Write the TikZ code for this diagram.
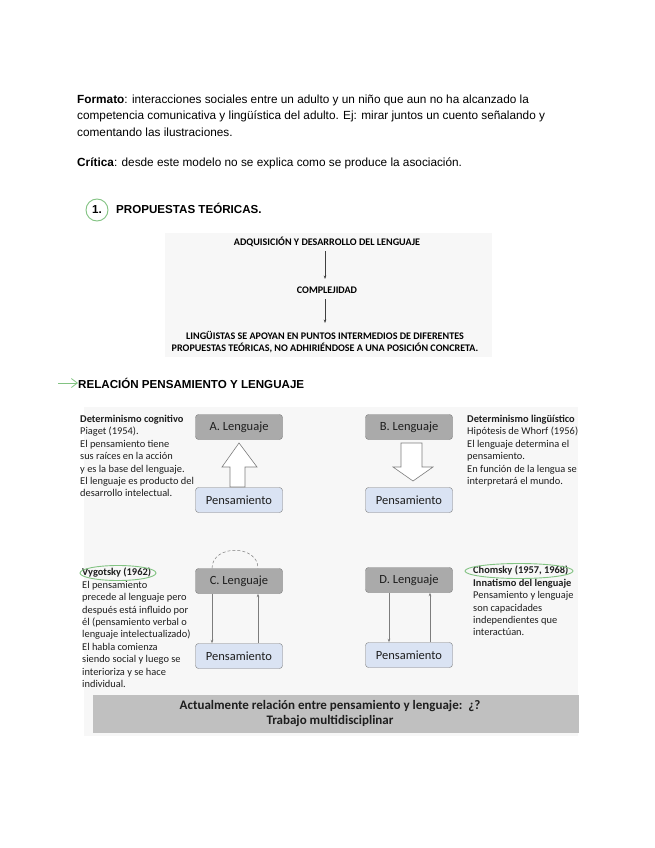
\documentclass[tikz,border=0pt]{standalone}
\usepackage{fontspec}
\setmainfont{Liberation Sans}
\newfontfamily\carl{Carlito}
\usetikzlibrary{arrows.meta,shapes.geometric}
\definecolor{boxgray}{RGB}{170,170,170}
\definecolor{boxblue}{RGB}{218,227,243}
\definecolor{edgegray}{RGB}{125,125,125}
\definecolor{panel}{RGB}{247,247,247}
\definecolor{band}{RGB}{192,192,192}
\definecolor{lgreen}{RGB}{130,195,130}
\definecolor{txt}{RGB}{30,30,30}
\tikzset{
  body/.style={anchor=base west, inner sep=0, font=\fontsize{11.8}{13}\selectfont},
  head/.style={anchor=base west, inner sep=0, font=\fontsize{11.6}{13}\selectfont\bfseries},
  caps/.style={anchor=base, inner sep=0, font=\carl\fontsize{10.1}{12}\selectfont\bfseries},
  lang/.style={draw=edgegray, fill=boxgray, rounded corners=3pt, minimum width=87pt, minimum height=25pt, inner sep=0, font=\carl\fontsize{12.5}{14}\selectfont, text=txt},
  pens/.style={draw=edgegray, fill=boxblue, rounded corners=3pt, minimum width=87pt, minimum height=25pt, inner sep=0, font=\carl\fontsize{12.5}{14}\selectfont, text=txt},
  note/.style={anchor=north west, align=left, inner sep=0, text=txt, font=\carl\fontsize{10.4}{12.4}\selectfont},
  thin/.style={draw=black!75, line width=0.6pt, -{Stealth[length=3.5pt,width=2.6pt]}},
  link/.style={draw=edgegray, line width=0.6pt, -{Stealth[length=3.5pt,width=2.6pt]}},
  hollow/.style={draw=edgegray, fill=white, line width=0.6pt}
}
\begin{document}
\begin{tikzpicture}[x=1pt,y=-1pt]
\useasboundingbox (0,0) rectangle (655,848);
\fill[white] (0,0) rectangle (655,848);

% intro text
\node[body] (l1) at (77,104) {\textbf{Formato}: interacciones sociales entre un adulto y un niño que aun no ha alcanzado la};
\node[body] (l2) at (77,120) {competencia comunicativa y lingüística del adulto. Ej: mirar juntos un cuento señalando y};
\node[body] (l3) at (77,136) {comentando las ilustraciones.};
\node[body] (l4) at (77,166) {\textbf{Crítica}: desde este modelo no se explica como se produce la asociación.};

% section 1
\node[circle, draw=lgreen, line width=0.9pt, minimum size=22pt, inner sep=0, font=\fontsize{11.6}{13}\selectfont\bfseries] (num) at (97,210) {1.};
\node[head] (h1) at (116,213) {PROPUESTAS TEÓRICAS.};

% upper diagram
\fill[panel] (165,233) rectangle (492,357);
\node[caps] (t1) at (327,245) {ADQUISICIÓN Y DESARROLLO DEL LENGUAJE};
\node[caps] (t2) at (327,293) {COMPLEJIDAD};
\node[caps, align=center, font=\carl\fontsize{10.1}{12}\selectfont\bfseries, anchor=north] (t3) at (325,331) {LINGÜISTAS SE APOYAN EN PUNTOS INTERMEDIOS DE DIFERENTES\\PROPUESTAS TEÓRICAS, NO ADHIRIÉNDOSE A UNA POSICIÓN CONCRETA.};
\coordinate (a1s) at (325,251);
\coordinate (a1e) at (325,279);
\coordinate (a2s) at (325,299);
\coordinate (a2e) at (325,323);
\draw[thin] (a1s) -- (a1e);
\draw[thin] (a2s) -- (a2e);

% section relacion
\coordinate (ga) at (58,383);
\node[head] (h2) at (78,388) {RELACIÓN PENSAMIENTO Y LENGUAJE};
\draw[draw=lgreen, line width=0.8pt, -{Straight Barb[length=6pt,width=9pt]}] (ga) -- (h2.base west |- ga);

% panel
\fill[panel] (84,407) rectangle (578,736);
\fill[band] (93,695) rectangle (579,733);
\node[align=center, inner sep=0, font=\carl\fontsize{13}{15}\selectfont\bfseries, text=txt] (bt) at (330,714) {Actualmente relación entre pensamiento y lenguaje:\ \ ¿?\\Trabajo multidisciplinar};

% A
\node[lang] (al) at (239,427) {A. Lenguaje};
\node[pens] (ap) at (239,500) {Pensamiento};
\draw[hollow] (230,487) -- (230,467) -- (222,467) -- (239,443) -- (257,467) -- (245,467) -- (245,487) -- cycle;
\node[note] (at) at (80,415) {\textbf{Determinismo cognitivo}\\Piaget (1954).\\El pensamiento tiene\\sus raíces en la acción\\y es la base del lenguaje.\\El lenguaje es producto del\\desarrollo intelectual.};

% B
\node[lang] (bl) at (409,427) {B. Lenguaje};
\node[pens] (bp) at (409,500) {Pensamiento};
\draw[hollow] (401,443) -- (401,467) -- (393,467) -- (413,481) -- (433,467) -- (422,467) -- (422,443) -- cycle;
\node[note] (btx) at (467,415) {\textbf{Determinismo lingüístico}\\Hipótesis de Whorf (1956)\\El lenguaje determina el\\pensamiento.\\En función de la lengua se\\interpretará el mundo.};

% C
\node[lang] (cl) at (239,581) {C. Lenguaje};
\node[pens] (cp) at (239,656) {Pensamiento};
\draw[link] ([xshift=-27pt]cl.south) -- ([xshift=-27pt]cp.north);
\draw[link] ([xshift=19pt]cp.north) -- ([xshift=19pt]cl.south);
\draw[draw=edgegray, densely dashed, line width=0.5pt] ([xshift=-27pt]cl.north) .. controls +(0,-24) and +(0,-24) .. ([xshift=19pt]cl.north);
\node[note] (ct) at (82,568) {\textbf{Vygotsky (1962)}\\El pensamiento\\precede al lenguaje pero\\después está influido por\\él (pensamiento verbal o\\lenguaje intelectualizado)\\El habla comienza\\siendo social y luego se\\interioriza y se hace\\individual.};
\draw[draw=lgreen, line width=0.9pt] (118,573) ellipse [x radius=38pt, y radius=7.5pt];

% D
\node[lang] (dl) at (409,580) {D. Lenguaje};
\node[pens] (dp) at (409,655) {Pensamiento};
\draw[link] ([xshift=-20pt]dl.south) -- ([xshift=-20pt]dp.north);
\draw[link] ([xshift=21pt]dp.north) -- ([xshift=21pt]dl.south);
\node[note] (dt) at (473,566) {\textbf{Chomsky (1957, 1968)}\\\textbf{Innatismo del lenguaje}\\Pensamiento y lenguaje\\son capacidades\\independientes que\\interactúan.};
\draw[draw=lgreen, line width=0.9pt] (519,571) ellipse [x radius=54pt, y radius=7.5pt];
\end{tikzpicture}
\end{document}
